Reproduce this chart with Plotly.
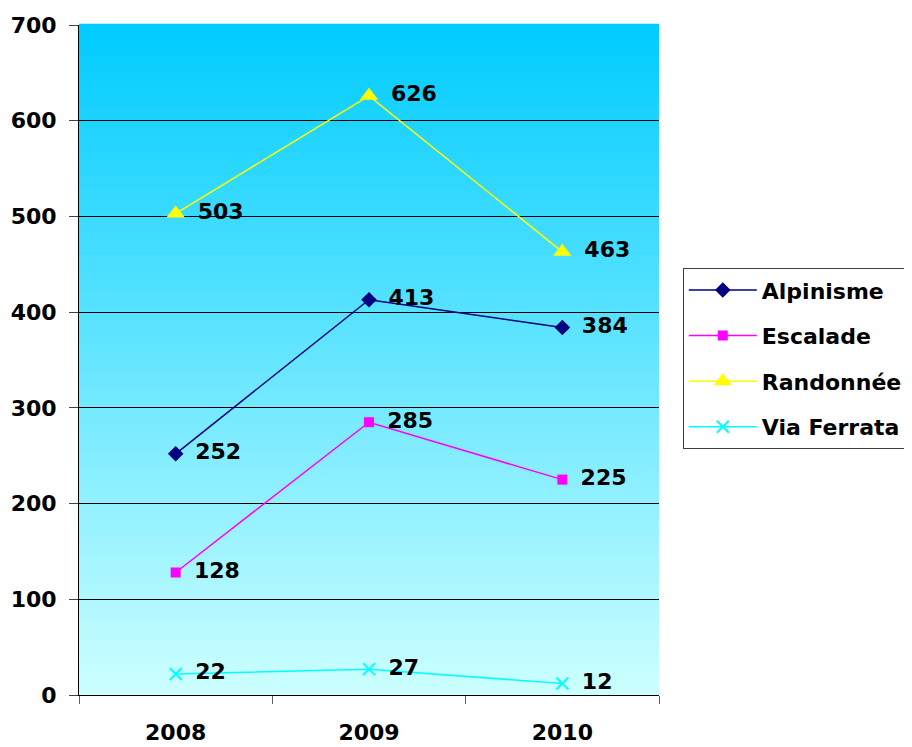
import plotly.graph_objects as go

years = ["2008", "2009", "2010"]
alpinisme = [252, 413, 384]
escalade = [128, 285, 225]
randonnee = [503, 626, 463]
via_ferrata = [22, 27, 12]
series_names = ["Alpinisme", "Escalade", "Randonnée", "Via Ferrata"]
y_ticks = [0, 100, 200, 300, 400, 500, 600, 700]

FONT = "DejaVu Sans, sans-serif"
FS = 22
PAD = "\u2002"

fig = go.Figure()

styles = [
    (alpinisme, "#000080", dict(symbol="diamond", size=12)),
    (escalade, "#FF00FF", dict(symbol="square", size=10)),
    (randonnee, "#FFFF00", dict(symbol="triangle-up", size=16)),
    (via_ferrata, "#00FFFF", dict(symbol="x-thin", size=12, line=dict(width=2, color="#00FFFF"))),
]

for (vals, color, mk), name in zip(styles, series_names):
    marker = dict(color=color, **mk)
    fig.add_trace(go.Scatter(
        x=years, y=vals, name=name, mode="lines+markers+text",
        line=dict(color=color, width=1.5), marker=marker,
        text=[PAD + str(v) for v in vals], textposition="middle right",
        textfont=dict(family=FONT, size=FS, color="black", weight="bold"),
        legendgroup=name,
        cliponaxis=False,
    ))

# vertical gradient background
n = 134
top = (0x00, 0xCC, 0xFF)
bot = (0xCC, 0xFF, 0xFF)
shapes = []
for i in range(n):
    f = i / (n - 1)
    c = tuple(round(bot[k] + (top[k] - bot[k]) * f) for k in range(3))
    shapes.append(dict(
        type="rect", xref="paper", yref="paper",
        x0=0, x1=1, y0=i / n, y1=(i + 1) / n + 0.002,
        fillcolor="rgb(%d,%d,%d)" % c, line=dict(width=0), layer="below",
    ))

fig.update_layout(
    width=912, height=739,
    margin=dict(l=71, r=261, t=17, b=52),
    paper_bgcolor="white", plot_bgcolor="rgba(0,0,0,0)",
    font=dict(family=FONT, size=FS, color="black", weight="bold"),
    shapes=shapes,
    showlegend=True,
    legend=dict(
        x=1.041, y=0.637, xanchor="left", yanchor="top",
        bordercolor="#404040", borderwidth=1, bgcolor="white",
        font=dict(family=FONT, size=FS, color="black", weight="bold"),
        tracegroupgap=14, itemwidth=68,
    ),
    xaxis=dict(
        type="category", range=[-0.5, 2.5], tickson="boundaries",
        ticks="outside", ticklen=8, tickcolor="#606060",
        showline=True, linecolor="black", linewidth=1,
        showgrid=False, ticklabelstandoff=18, automargin=False,
        tickfont=dict(family=FONT, size=FS, weight="bold"),
    ),
    yaxis=dict(
        range=[0, 700], tickvals=y_ticks, ticks="outside", ticklen=9,
        tickcolor="#404040", showline=True, linecolor="black", linewidth=1,
        showgrid=True, gridcolor="black", gridwidth=1, zeroline=False,
        ticklabelstandoff=8, automargin=False, layer="above traces",
        tickfont=dict(family=FONT, size=FS, weight="bold"),
    ),
)

fig.write_html("out.html")
